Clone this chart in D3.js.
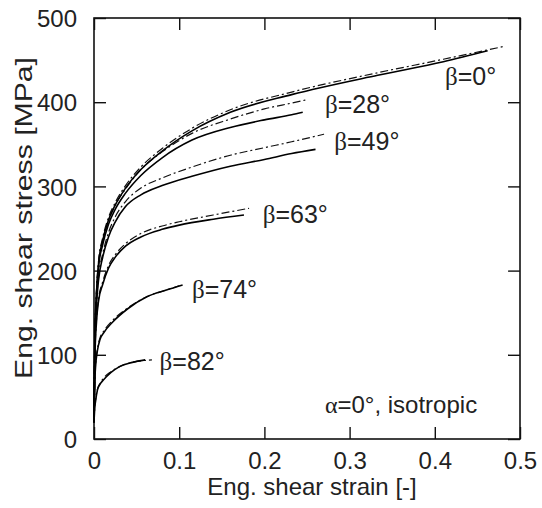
<!DOCTYPE html>
<html lang="en">
<head>
<meta charset="UTF-8">
<title>Shear stress-strain</title>
<script src="https://d3js.org/d3.v7.min.js"></script>
<style>
    body { margin: 0; background: #fff; }
    svg text { font-family: 'Liberation Sans', Arial, sans-serif; fill: #222; }
    .greek { font-family: 'Liberation Serif', 'DejaVu Serif', serif; }
</style>
</head>
<body>
<script>
    // tick values
    const xTicks = [0, 0.1, 0.2, 0.3, 0.4, 0.5];
    const yTicks = [0, 100, 200, 300, 400, 500];

    const beta0Solid = [[0,20],[0.001,120],[0.003,175],[0.0055,210],[0.01,235],[0.017,260],[0.025,278],[0.037,298],[0.055,320],[0.08,342],[0.115,366],[0.16,388],[0.232,409],[0.333,432],[0.41,448],[0.462,461]];
    const beta0Dash  = [[0,20],[0.001,122],[0.003,178],[0.0055,213],[0.01,238],[0.017,263],[0.025,281],[0.037,301],[0.055,323],[0.08,345],[0.115,369],[0.16,391],[0.232,412],[0.333,435],[0.41,451],[0.48,466]];
    const beta28Solid = [[0,20],[0.001,118],[0.003,172],[0.0055,206],[0.01,230],[0.017,255],[0.025,273],[0.037,292],[0.055,313],[0.08,334],[0.115,355],[0.16,370],[0.2,379],[0.232,385],[0.245,388]];
    const beta28Dash  = [[0,20],[0.001,120],[0.003,175],[0.0055,209],[0.01,234],[0.017,259],[0.025,278],[0.037,297],[0.055,320],[0.08,341],[0.115,363],[0.16,380],[0.2,392],[0.232,399],[0.25,403]];
    const beta49Solid = [[0,20],[0.001,110],[0.003,160],[0.0055,190],[0.01,215],[0.017,240],[0.025,258],[0.037,276],[0.055,290],[0.08,301],[0.115,312],[0.16,324],[0.2,332],[0.232,339],[0.26,344]];
    const beta49Dash  = [[0,20],[0.001,112],[0.003,163],[0.0055,194],[0.01,219],[0.017,245],[0.025,264],[0.037,282],[0.055,298],[0.08,310],[0.115,323],[0.16,337],[0.2,346],[0.232,353],[0.27,362]];
    const beta63Solid = [[0,20],[0.001,95],[0.003,140],[0.0055,165],[0.01,183],[0.017,203],[0.025,216],[0.037,229],[0.055,240],[0.08,249],[0.1,254],[0.14,261],[0.176,266]];
    const beta63Dash  = [[0,20],[0.001,97],[0.003,143],[0.0055,168],[0.01,186],[0.017,206],[0.025,219],[0.037,232],[0.055,244],[0.08,253],[0.1,258],[0.14,266],[0.182,274]];
    const beta74Solid = [[0,20],[0.001,70],[0.002,88],[0.004,105],[0.007,118],[0.012,127],[0.022,139],[0.04,155],[0.062,169],[0.085,177],[0.104,183]];
    const beta74Dash  = [[0,20],[0.001,72],[0.002,90],[0.004,107],[0.007,120],[0.012,129],[0.022,141],[0.04,156],[0.062,169],[0.085,177],[0.1,182]];
    const beta82Solid = [[0,20],[0.001,38],[0.002,46],[0.004,58],[0.007,65],[0.011,70],[0.02,79],[0.03,86],[0.045,91],[0.06,94]];
    const beta82Dash  = [[0,20],[0.001,40],[0.002,48],[0.004,59],[0.007,66],[0.011,72],[0.02,80],[0.03,86],[0.045,91],[0.068,94]];

    const betaLabels = ["0", "28", "49", "63", "74", "82"];

    const margin = {top: 18, right: 22, bottom: 69, left: 94},
          width = 542 - margin.left - margin.right,
          height = 508 - margin.top - margin.bottom;

    const svg = d3.select("body").append("svg")
        .attr("width", 542)
        .attr("height", 508)
        .append("g")
        .attr("transform", `translate(${margin.left},${margin.top})`);

    const x = d3.scaleLinear().domain([0, 0.5]).range([0, width]);
    const y = d3.scaleLinear().domain([0, 500]).range([height, 0]);

    const tickLen = 12;

    // bottom axis with labels, top axis mirrored without labels
    const xAxis = svg.append("g")
        .attr("transform", `translate(0,${height})`)
        .call(d3.axisBottom(x).tickValues(xTicks).tickSize(-tickLen).tickPadding(tickLen + 1)
              .tickFormat(d => d === 0 ? "0" : d3.format(".1f")(d)));
    const xTop = svg.append("g")
        .call(d3.axisTop(x).tickValues(xTicks).tickSize(-tickLen).tickFormat(""));
    const yAxis = svg.append("g")
        .call(d3.axisLeft(y).tickValues(yTicks).tickSize(-tickLen).tickPadding(tickLen + 5));
    const yRight = svg.append("g")
        .attr("transform", `translate(${width},0)`)
        .call(d3.axisRight(y).tickValues(yTicks).tickSize(-tickLen).tickFormat(""));

    [xAxis, xTop, yAxis, yRight].forEach(g => {
        g.select(".domain").remove();
        g.selectAll(".tick line").attr("stroke", "#111").attr("stroke-width", 1.4);
        g.selectAll("text").style("font-size", "24px").attr("fill", "#222");
    });
    yAxis.selectAll("text").attr("dy", "0.36em");

    // frame
    svg.append("rect")
        .attr("width", width)
        .attr("height", height)
        .attr("fill", "none")
        .attr("stroke", "#111")
        .attr("stroke-width", 1.6);

    // axis labels
    svg.append("text")
        .attr("x", width / 2 + 5)
        .attr("y", height + 56)
        .attr("text-anchor", "middle")
        .style("font-size", "24px")
        .text("Eng. shear strain [-]");

    svg.append("text")
        .attr("transform", "rotate(-90)")
        .attr("x", -200)
        .attr("y", -62)
        .attr("text-anchor", "middle")
        .attr("textLength", 322)
        .attr("lengthAdjust", "spacingAndGlyphs")
        .style("font-size", "24px")
        .text("Eng. shear stress [MPa]");

    // curves
    const line = d3.line()
        .x(d => x(d[0]))
        .y(d => y(d[1]))
        .curve(d3.curveMonotoneX);

    const solids = [beta0Solid, beta28Solid, beta49Solid, beta63Solid, beta74Solid, beta82Solid];
    const dashes = [beta0Dash, beta28Dash, beta49Dash, beta63Dash, beta74Dash, beta82Dash];

    svg.selectAll(".dash")
        .data(dashes)
        .enter().append("path")
        .attr("class", "dash")
        .attr("fill", "none")
        .attr("stroke", "#111")
        .attr("stroke-width", 1.2)
        .attr("stroke-dasharray", "8,3,2,3")
        .attr("d", line);

    svg.selectAll(".solid")
        .data(solids)
        .enter().append("path")
        .attr("class", "solid")
        .attr("fill", "none")
        .attr("stroke", "#000")
        .attr("stroke-width", 1.6)
        .attr("d", line);

    // curve labels, anchored in data units
    const labelAt = [[0.412, 421], [0.271, 387], [0.282, 343], [0.198, 256], [0.115, 168], [0.077, 82]];
    betaLabels.forEach((b, i) => {
        const t = svg.append("text")
            .attr("x", x(labelAt[i][0]))
            .attr("y", y(labelAt[i][1]))
            .style("font-size", "25px");
        t.append("tspan").attr("class", "greek").text("β");
        t.append("tspan").text("=" + b + "°");
    });

    const note = svg.append("text")
        .attr("x", x(0.271))
        .attr("y", y(31))
        .style("font-size", "24px");
    note.append("tspan").attr("class", "greek").text("α");
    note.append("tspan").text("=0°, isotropic");
</script>
</body>
</html>
